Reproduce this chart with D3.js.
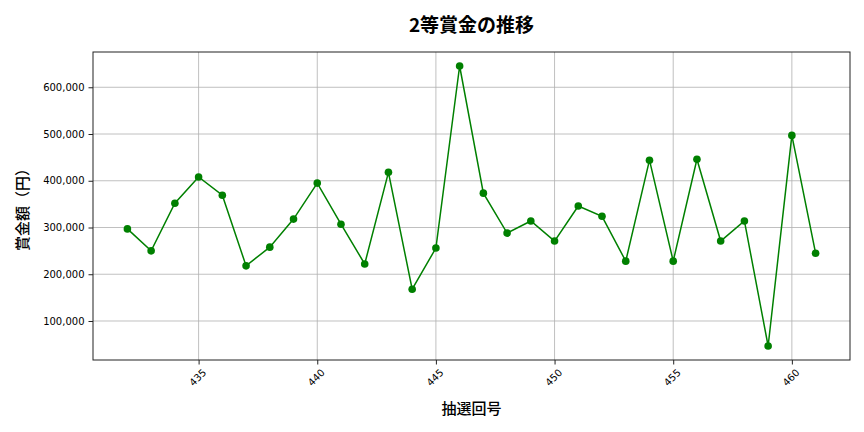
<!DOCTYPE html>
<html>
<head>
<meta charset="utf-8">
<script src="https://cdn.jsdelivr.net/npm/d3@7"></script>
<style>
  body { margin: 0; background: #fff; }
  svg text { font-family: "Noto Sans CJK JP", "Noto Sans", sans-serif; fill: #000; }
  .tick text { font-family: "DejaVu Sans", sans-serif; }
  .grid line { stroke: #b0b0b0; stroke-width: 0.8; }
</style>
</head>
<body>
<div id="chart"></div>
<script>
const draws = [432, 433, 434, 435, 436, 437, 438, 439, 440, 441, 442, 443, 444, 445, 446,
               447, 448, 449, 450, 451, 452, 453, 454, 455, 456, 457, 458, 459, 460, 461];
const prizes = [297000, 250000, 352000, 408000, 369000, 218000, 258000, 318000, 395000, 307000,
                222000, 418000, 168000, 256000, 645500, 373500, 288000, 314000, 271000, 346000,
                324000, 228000, 444000, 228000, 446000, 271000, 314000, 46500, 497000, 245000];
const xTicks = [435, 440, 445, 450, 455, 460];
const yTicks = [100000, 200000, 300000, 400000, 500000, 600000];

const W = 864, H = 432;
const M = { top: 52, right: 14, bottom: 72, left: 93 };
const iw = W - M.left - M.right, ih = H - M.top - M.bottom;

const svg = d3.select("#chart").append("svg").attr("width", W).attr("height", H);
const g = svg.append("g").attr("transform", `translate(${M.left},${M.top})`);

// matplotlib-style 5% margins
function padded(ext) {
  const p = (ext[1] - ext[0]) * 0.05;
  return [ext[0] - p, ext[1] + p];
}
const x = d3.scaleLinear().domain(padded(d3.extent(draws))).range([0, iw]);
const y = d3.scaleLinear().domain(padded(d3.extent(prizes))).range([ih, 0]);

g.append("g").attr("class", "grid")
  .selectAll("line").data(xTicks).join("line")
  .attr("x1", d => x(d)).attr("x2", d => x(d)).attr("y1", 0).attr("y2", ih);
g.append("g").attr("class", "grid")
  .selectAll("line").data(yTicks).join("line")
  .attr("y1", d => y(d)).attr("y2", d => y(d)).attr("x1", 0).attr("x2", iw);

const xAxis = g.append("g")
  .attr("transform", `translate(0,${ih})`)
  .call(d3.axisBottom(x).tickValues(xTicks).tickSize(4.5).tickPadding(3).tickFormat(d3.format("d")));
xAxis.select(".domain").remove();
xAxis.selectAll(".tick line").attr("stroke", "#222");
xAxis.selectAll(".tick text")
  .style("font-size", "10px")
  .attr("text-anchor", "middle")
  .attr("dy", null)
  .attr("transform", "translate(-1,18) rotate(-45)")
  .attr("y", 0)
  .attr("dominant-baseline", "middle");

const yAxis = g.append("g")
  .call(d3.axisLeft(y).tickValues(yTicks).tickSize(4.5).tickPadding(4).tickFormat(d3.format(",")));
yAxis.select(".domain").remove();
yAxis.selectAll(".tick line").attr("stroke", "#222");
yAxis.selectAll(".tick text").style("font-size", "10px");

g.append("rect")
  .attr("width", iw).attr("height", ih)
  .attr("fill", "none").attr("stroke", "#222").attr("stroke-width", 1);

const pts = draws.map((d, i) => ({ draw: d, prize: prizes[i] }));
g.append("path")
  .datum(pts)
  .attr("fill", "none")
  .attr("stroke", "#008000")
  .attr("stroke-width", 1.5)
  .attr("d", d3.line().x(d => x(d.draw)).y(d => y(d.prize)));
g.selectAll("circle.pt").data(pts).join("circle")
  .attr("class", "pt")
  .attr("cx", d => x(d.draw)).attr("cy", d => y(d.prize))
  .attr("r", 3.8).attr("fill", "#008000");

svg.append("text")
  .attr("x", M.left + iw / 2).attr("y", 32)
  .attr("text-anchor", "middle")
  .style("font-size", "19px").style("font-weight", "bold")
  .text("2等賞金の推移");

svg.append("text")
  .attr("x", M.left + iw / 2).attr("y", 414)
  .attr("text-anchor", "middle")
  .style("font-size", "15px").style("font-weight", "500")
  .text("抽選回号");

svg.append("text")
  .attr("transform", `translate(28,${M.top + ih / 2}) rotate(-90)`)
  .attr("text-anchor", "middle")
  .style("font-size", "15px").style("font-weight", "500")
  .text("賞金額（円）");
</script>
</body>
</html>
